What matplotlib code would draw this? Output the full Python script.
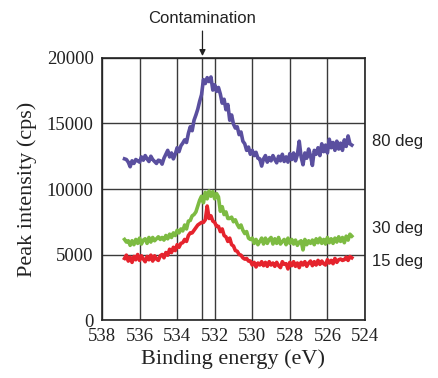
import matplotlib
matplotlib.use("Agg")
import matplotlib.pyplot as plt
import numpy as np

# XPS O1s spectra at three take-off angles
# (0.1 eV steps from 536.8 eV down to 524.7 eV)
e_start, e_end = 536.8, 524.7

cps_80deg = [
    12300, 12250, 12050, 11700, 12150, 11950, 12250, 12150, 12050, 12450,
    12200, 12550, 12300, 12100, 12500, 12250, 12100, 11950, 12200, 12150,
    11900, 12350, 12650, 12950, 12450, 12750, 12300, 12650, 13150, 12850,
    13300, 13500, 13750, 13550, 14250, 14750, 14450, 15250, 15650, 16100,
    16700, 17200, 18350, 18050, 18500, 18200, 18550, 17550, 17950, 17450,
    17750, 17250, 16550, 16850, 16050, 16450, 15250, 15650, 14950, 14650,
    14750, 14150, 14350, 13650, 13450, 12950, 13200, 12650, 12950, 12550,
    12800, 12350, 12300, 11750, 12300, 12550, 12050, 12400, 12150, 12550,
    12250, 12000, 12500, 12150, 12650, 12100, 12450, 12050, 12700, 12250,
    12750, 12150, 12600, 13650, 12450, 11850, 12750, 12350, 13050, 12550,
    11800, 12950, 12650, 13150, 12550, 13450, 12850, 13350, 12750, 13800,
    13150, 13550, 12950, 13650, 13050, 13500, 12950, 13750, 13250, 14050,
    13450, 13350,
]

cps_30deg = [
    6150, 5950, 6050, 5700, 6050, 5750, 6150, 5850, 6250, 5800,
    6100, 6200, 5850, 6300, 5950, 6300, 6050, 6200, 6350, 6150,
    6300, 6100, 6450, 6200, 6550, 6300, 6650, 6450, 6850, 6650,
    6950, 6800, 7250, 6950, 7550, 7600, 7950, 8050, 8250, 8700,
    9150, 9450, 8950, 9750, 9250, 9850, 9450, 9800, 9250, 9650,
    9400, 8300, 8650, 8050, 8250, 7750, 7750, 7850, 7500, 7650,
    7300, 7050, 7250, 6850, 6600, 6750, 6250, 6150, 6250, 5850,
    6150, 5750, 6000, 6250, 5800, 6250, 5850, 6150, 6300, 5800,
    6200, 5850, 6300, 5800, 6000, 6150, 5750, 6250, 5850, 6150,
    5800, 6100, 5700, 5950, 6050, 5350, 6150, 5750, 6050, 5850,
    6100, 5750, 6200, 5900, 6250, 5850, 6150, 5800, 6300, 5900,
    6200, 5850, 6250, 5950, 6350, 6000, 6300, 5900, 6400, 6100,
    6550, 6400,
]

cps_15deg = [
    4700, 4950, 4500, 4800, 4400, 4850, 4600, 5000, 4550, 4900,
    4650, 4450, 4850, 4600, 4950, 4500, 4900, 4650, 4550, 4900,
    5000, 4750, 5150, 4950, 5400, 5150, 5550, 5300, 5750, 5550,
    5850, 5900, 6150, 6000, 6450, 6650, 6650, 6850, 7050, 7250,
    7350, 7450, 7450, 7650, 8700, 7750, 7950, 7550, 7450, 7150,
    7150, 6750, 6950, 6450, 6350, 6000, 6250, 5750, 5650, 5300,
    5250, 5000, 4950, 4750, 4650, 4700, 4500, 4500, 4200, 4400,
    4050, 4350, 4200, 4450, 4150, 4400, 4100, 4450, 4200, 4350,
    4100, 4400, 4150, 4000, 4450, 4250, 4300, 3900, 4400, 4150,
    4450, 4100, 4350, 4000, 4400, 4200, 4450, 4100, 4350, 4500,
    4150, 4450, 4200, 4550, 4250, 4500, 4300, 4200, 4600, 4350,
    4550, 4300, 4700, 4400, 4600, 4650, 4550, 4600, 4800, 4550,
    4850, 4750,
]

series = [
    ("80 deg", cps_80deg, "#5a4f9f", 13650),
    ("30 deg", cps_30deg, "#7dbb42", 7000),
    ("15 deg", cps_15deg, "#e5232d", 4450),
]

x_ticks = [538, 536, 534, 532, 530, 528, 526, 524]
y_ticks = [0, 5000, 10000, 15000, 20000]
contamination_ev = 532.65

serif = ["Liberation Serif", "DejaVu Serif"]
sans = ["Liberation Sans", "DejaVu Sans"]

fig = plt.figure(figsize=(4.39, 3.78), dpi=100)
ax = fig.add_axes([0.2323, 0.1534, 0.5991, 0.6932])

# grid lines, plus the extra marker line for the contamination peak
for xt in x_ticks:
    ax.axvline(xt, color="#3a3a3a", lw=1.0, zorder=1)
for yt in y_ticks:
    ax.axhline(yt, color="#3a3a3a", lw=1.0, zorder=1)
ax.axvline(contamination_ev, color="#3a3a3a", lw=1.0, zorder=1)

for label, vals, col, ylab in series:
    energy = np.linspace(e_start, e_end, len(vals))
    ax.plot(energy, vals, color=col, lw=2.6, zorder=3)
    ax.text(523.6, ylab, label, fontsize=12, family=sans, color="#222222",
            va="center", ha="left", clip_on=False)

ax.set_xlim(538, 524)
ax.set_ylim(0, 20000)
ax.set_xticks(x_ticks)
ax.set_yticks(y_ticks)
ax.tick_params(length=0, pad=6, labelsize=13.5, colors="#222222")
for lab in ax.get_xticklabels() + ax.get_yticklabels():
    lab.set_family(serif)
for sp in ax.spines.values():
    sp.set_color("#222222")
    sp.set_linewidth(1.2)

ax.set_xlabel("Binding energy (eV)", family=serif, fontsize=16,
              color="#222222", labelpad=3)
ax.set_ylabel("Peak intensity (cps)", family=serif, fontsize=16,
              color="#222222", labelpad=7)

ax.annotate("Contamination", xy=(contamination_ev, 20150),
            xytext=(contamination_ev, 23050),
            ha="center", va="center", fontsize=12, family=sans,
            color="#222222", annotation_clip=False,
            arrowprops=dict(arrowstyle="-|>", color="#222222", lw=0.9,
                            mutation_scale=9, shrinkB=0, shrinkA=2))

fig.savefig("out.png", dpi=100)
